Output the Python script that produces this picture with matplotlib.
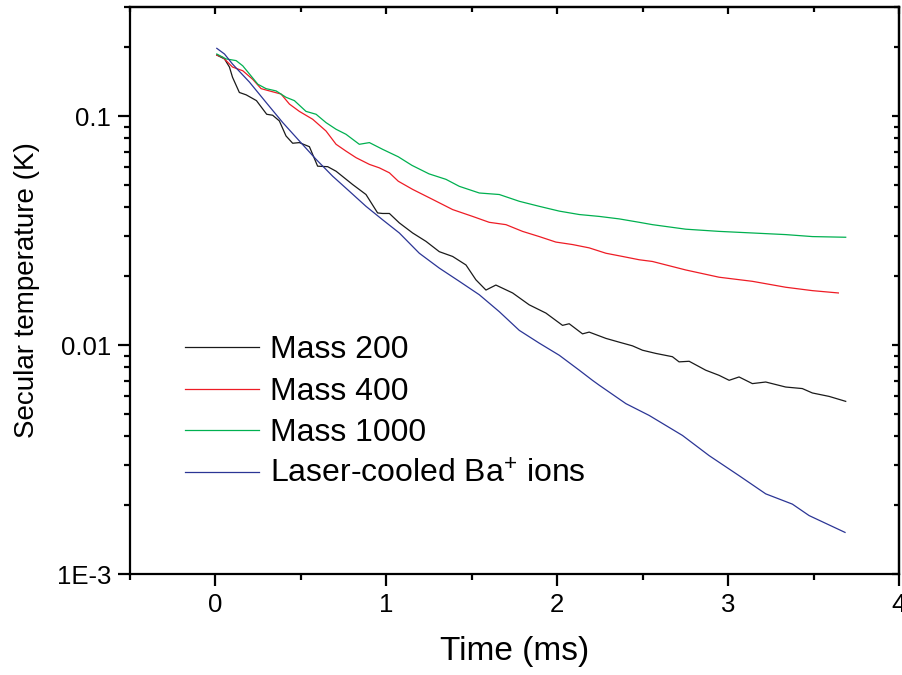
import matplotlib
matplotlib.use("Agg")
import matplotlib.pyplot as plt
from matplotlib.ticker import MultipleLocator, FixedLocator, FixedFormatter, LogLocator, NullFormatter

plt.rcParams['font.family'] = ['Liberation Sans', 'DejaVu Sans']
plt.rcParams['mathtext.fontset'] = 'custom'
plt.rcParams['mathtext.rm'] = 'Liberation Sans'
plt.rcParams['mathtext.it'] = 'Liberation Sans:italic'

# Mass 200
t_m200 = [0.008, 0.053, 0.082, 0.10, 0.14, 0.18, 0.24, 0.30, 0.335, 0.374, 0.413, 0.452,
          0.491, 0.55, 0.598, 0.657, 0.706, 0.803, 0.881, 0.949, 0.978, 1.018, 1.076,
          1.154, 1.232, 1.31, 1.388, 1.466, 1.524, 1.583, 1.641, 1.739, 1.836, 1.934,
          2.031, 2.07, 2.148, 2.187, 2.285, 2.363, 2.44, 2.499, 2.577, 2.674, 2.713,
          2.772, 2.869, 2.947, 3.006, 3.064, 3.142, 3.22, 3.337, 3.434, 3.493, 3.591, 3.688]
T_m200 = [0.185, 0.178, 0.164, 0.148, 0.127, 0.124, 0.117, 0.102, 0.101, 0.0954, 0.082, 0.0762,
          0.0767, 0.0736, 0.0605, 0.0602, 0.0575, 0.0503, 0.0455, 0.0378, 0.0376, 0.0376, 0.0342,
          0.0309, 0.0284, 0.0256, 0.0244, 0.0224, 0.0193, 0.0174, 0.0183, 0.0169, 0.0150, 0.0138,
          0.0122, 0.0124, 0.0112, 0.0114, 0.0107, 0.0103, 0.00993, 0.0095, 0.0092, 0.0089, 0.00845,
          0.0085, 0.00777, 0.00738, 0.00702, 0.00726, 0.00679, 0.0069, 0.00656, 0.00646, 0.00618,
          0.00597, 0.00568]

# Mass 400
t_m400 = [0.008, 0.043, 0.10, 0.16, 0.218, 0.267, 0.316, 0.384, 0.433, 0.491, 0.569, 0.647,
          0.706, 0.764, 0.823, 0.901, 0.959, 1.018, 1.07, 1.154, 1.271, 1.388, 1.505, 1.602,
          1.70, 1.797, 1.895, 1.992, 2.09, 2.187, 2.285, 2.382, 2.48, 2.557, 2.752, 2.947,
          3.142, 3.337, 3.493, 3.645]
T_m400 = [0.185, 0.181, 0.164, 0.158, 0.145, 0.132, 0.129, 0.125, 0.113, 0.105, 0.097, 0.0862,
          0.0754, 0.0704, 0.0659, 0.0616, 0.0595, 0.0566, 0.052, 0.0479, 0.0433, 0.0391, 0.0365,
          0.0344, 0.0336, 0.0314, 0.0298, 0.0282, 0.0275, 0.0266, 0.0252, 0.0244, 0.0236, 0.0232,
          0.0213, 0.0198, 0.0190, 0.0179, 0.0173, 0.0169]

# Mass 1000
t_m1000 = [0.008, 0.062, 0.121, 0.16, 0.199, 0.248, 0.296, 0.355, 0.413, 0.462, 0.530, 0.589,
           0.647, 0.706, 0.764, 0.842, 0.901, 0.978, 1.07, 1.15, 1.25, 1.349, 1.427, 1.544,
           1.661, 1.778, 1.895, 2.012, 2.129, 2.246, 2.363, 2.48, 2.557, 2.752, 2.947, 3.142,
           3.337, 3.493, 3.688]
T_m1000 = [0.187, 0.178, 0.175, 0.166, 0.153, 0.138, 0.132, 0.129, 0.121, 0.117, 0.105, 0.102,
           0.0938, 0.0877, 0.0834, 0.0754, 0.0767, 0.0717, 0.0665, 0.061, 0.056, 0.053, 0.0494,
           0.0462, 0.0455, 0.0425, 0.0404, 0.0385, 0.0372, 0.0365, 0.0356, 0.0344, 0.0336, 0.0321,
           0.0314, 0.0309, 0.0304, 0.0298, 0.0296]

# Laser-cooled Ba+ ions
t_ba = [0.008, 0.053, 0.10, 0.199, 0.296, 0.394, 0.491, 0.589, 0.686, 0.784, 0.881, 0.978,
        1.076, 1.193, 1.31, 1.427, 1.544, 1.661, 1.778, 1.895, 2.012, 2.129, 2.206, 2.246,
        2.402, 2.538, 2.733, 2.889, 3.064, 3.22, 3.376, 3.474, 3.684]
T_ba = [0.198, 0.187, 0.169, 0.141, 0.115, 0.0938, 0.078, 0.0648, 0.0547, 0.047, 0.0404, 0.0353,
        0.0309, 0.0252, 0.0217, 0.0190, 0.0166, 0.0140, 0.0116, 0.0102, 0.00903, 0.00777,
        0.00702, 0.00668, 0.00555, 0.00493, 0.00403, 0.00329, 0.00269, 0.00224, 0.00202,
        0.00180, 0.00152]

labels = ["Mass 200", "Mass 400", "Mass 1000", "Laser-cooled Ba$^{+}$ ions"]
colors = ["#1a1a1a", "#ee1c25", "#00b050", "#2b3595"]

fig = plt.figure(figsize=(9.02, 6.75), dpi=100)
ax = fig.add_axes([0.1441, 0.1496, 0.8526, 0.84])

series = [(t_m200, T_m200), (t_m400, T_m400), (t_m1000, T_m1000), (t_ba, T_ba)]
for (t, T), lab, c in zip(series, labels, colors):
    ax.plot(t, T, color=c, lw=0.9, label=lab)

ax.set_yscale("log")
ax.set_xlim(-0.5, 4)
ax.set_ylim(1e-3, 0.3)

ax.xaxis.set_major_locator(MultipleLocator(1))
ax.xaxis.set_minor_locator(MultipleLocator(0.5))
ax.yaxis.set_major_locator(FixedLocator([1e-3, 1e-2, 1e-1]))
ax.yaxis.set_major_formatter(FixedFormatter(["1E-3", "0.01", "0.1"]))
ax.yaxis.set_minor_locator(LogLocator(base=10, subs=range(2, 10)))
ax.yaxis.set_minor_formatter(NullFormatter())

for s in ax.spines.values():
    s.set_linewidth(1.6)
ax.tick_params(which="major", length=8.5, width=1.6, labelsize=18.5, pad=5, direction="out")
ax.tick_params(which="minor", length=4, width=1.6, direction="out")

# mirrored ticks on top and right, pointing inwards
top = ax.secondary_xaxis("top")
top.xaxis.set_major_locator(MultipleLocator(1))
top.xaxis.set_minor_locator(MultipleLocator(0.5))
top.tick_params(which="major", length=5, width=1.6, direction="in", labeltop=False)
top.tick_params(which="minor", length=3.5, width=1.6, direction="in")
top.spines["top"].set_linewidth(1.6)
right = ax.secondary_yaxis("right")
right.yaxis.set_major_locator(FixedLocator([1e-3, 1e-2, 1e-1]))
right.yaxis.set_minor_locator(LogLocator(base=10, subs=range(2, 10)))
right.yaxis.set_minor_formatter(NullFormatter())
right.tick_params(which="major", length=5, width=1.6, direction="in", labelright=False)
right.tick_params(which="minor", length=3.5, width=1.6, direction="in")
right.spines["right"].set_linewidth(1.6)

ax.set_xlabel("Time (ms)", fontsize=24, labelpad=14)
ax.set_ylabel("Secular temperature (K)", fontsize=20, labelpad=12)

ax.legend(loc="upper left", bbox_to_anchor=(0.051, 0.449), frameon=False, fontsize=23,
          handlelength=2.3, handletextpad=0.35, labelspacing=0.36, borderpad=0)

fig.savefig("out.png", dpi=100)
